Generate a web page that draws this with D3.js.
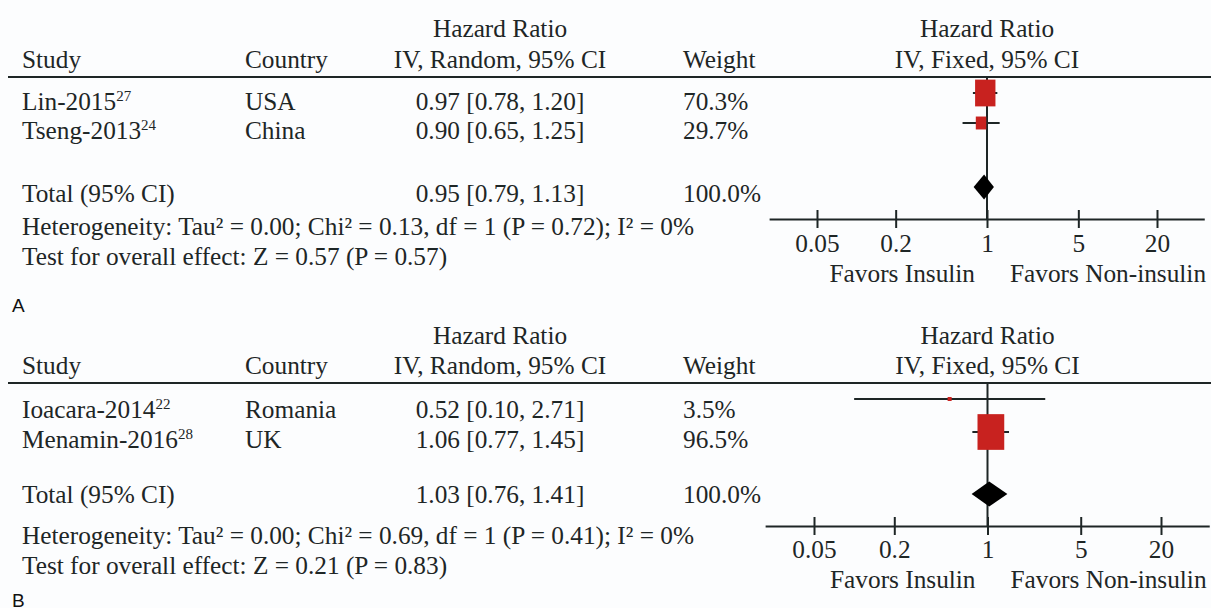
<!DOCTYPE html>
<html>
<head>
<meta charset="utf-8">
<script src="https://cdn.jsdelivr.net/npm/d3@7"></script>
<style>
  html, body { margin: 0; padding: 0; background: #fcfdfe; }
  svg { display: block; }
</style>
</head>
<body>
<script>
// ---- Panel A: insulin vs non-insulin, studies ----
const studiesA   = ["Lin-2015", "Tseng-2013"];
const refsA      = ["27", "24"];
const countriesA = ["USA", "China"];
const hrA        = [0.97, 0.90];
const lowerA     = [0.78, 0.65];
const upperA     = [1.20, 1.25];
const weightA    = [70.3, 29.7];
const totalA     = [0.95, 0.79, 1.13];   // estimate, lower, upper
const hetA       = "Heterogeneity: Tau² = 0.00; Chi² = 0.13, df = 1 (P = 0.72); I² = 0%";
const testA      = "Test for overall effect: Z = 0.57 (P = 0.57)";

// ---- Panel B ----
const studiesB   = ["Ioacara-2014", "Menamin-2016"];
const refsB      = ["22", "28"];
const countriesB = ["Romania", "UK"];
const hrB        = [0.52, 1.06];
const lowerB     = [0.10, 0.77];
const upperB     = [2.71, 1.45];
const weightB    = [3.5, 96.5];
const totalB     = [1.03, 0.76, 1.41];
const hetB       = "Heterogeneity: Tau² = 0.00; Chi² = 0.69, df = 1 (P = 0.41); I² = 0%";
const testB      = "Test for overall effect: Z = 0.21 (P = 0.83)";

// ---- shared axis / header text ----
const tickValues = [0.05, 0.2, 1, 5, 20];
const tickLabels = ["0.05", "0.2", "1", "5", "20"];
const colHeaders = ["Study", "Country", "IV, Random, 95% CI", "Weight"];
const effectTitle = "Hazard Ratio";
const plotSubtitle = "IV, Fixed, 95% CI";
const favorsLeft = "Favors Insulin";
const favorsRight = "Favors Non-insulin";
const panelLabels = ["A", "B"];

const W = 1211, H = 608;
const INK = "#1e2626";
const RED = "#c8221f";
const SERIF = "'Liberation Serif', 'Times New Roman', serif";
const FS = 25.3;

const svg = d3.select("body").append("svg")
  .attr("width", W).attr("height", H)
  .style("background", "#fcfdfe");

// vertical layout of each panel (pixel positions)
const layouts = [
  { hdr1: 37, hdr2: 68, rule: 77, rowBase: [110, 139], rowY: [93, 123], totBase: 202, totY: 187,
    het: 235, test: 265, axisY: 219, tickBase: 252, favBase: 282, label: 312,
    range: [817, 1157] },
  { hdr1: 344, hdr2: 374, rule: 383, rowBase: [418, 448], rowY: [399, 432], totBase: 503, totY: 494,
    het: 544, test: 574, axisY: 526, tickBase: 558, favBase: 588, label: 607,
    range: [814, 1161] }
];

const panels = [
  { studies: studiesA, refs: refsA, countries: countriesA, hr: hrA, lo: lowerA, hi: upperA,
    w: weightA, total: totalA, het: hetA, test: testA },
  { studies: studiesB, refs: refsB, countries: countriesB, hr: hrB, lo: lowerB, hi: upperB,
    w: weightB, total: totalB, het: hetB, test: testB }
];

// box size grows with study weight (with a small minimum size)
const boxW = d3.scaleLinear().domain([0, 100]).range([3.2, 27.6]);
const boxH = d3.scaleLinear().domain([0, 100]).range([2.8, 36.9]);

const colX = { study: 22, country: 245, effect: 500, weight: 683 };

panels.forEach((p, i) => {
  const L = layouts[i];
  const g = svg.append("g");
  const x = d3.scaleLog().domain([0.05, 20]).range(L.range);

  const text = (tx, ty, str, anchor) => g.append("text")
    .attr("x", tx).attr("y", ty)
    .attr("text-anchor", anchor || "start")
    .attr("font-family", SERIF).attr("font-size", FS)
    .attr("fill", INK).text(str);

  // headers
  text(colX.effect, L.hdr1, effectTitle, "middle");
  text(x(1), L.hdr1, effectTitle, "middle");
  text(colX.study, L.hdr2, colHeaders[0]);
  text(colX.country, L.hdr2, colHeaders[1]);
  text(colX.effect, L.hdr2, colHeaders[2], "middle");
  text(colX.weight, L.hdr2, colHeaders[3]);
  text(x(1), L.hdr2, plotSubtitle, "middle");

  g.append("line")
    .attr("x1", 8).attr("x2", W).attr("y1", L.rule).attr("y2", L.rule)
    .attr("stroke", INK).attr("stroke-width", 2);

  // study rows
  p.studies.forEach((s, j) => {
    const t = text(colX.study, L.rowBase[j], s);
    t.append("tspan").attr("font-size", 15).attr("dy", -9).text(p.refs[j]);
    text(colX.country, L.rowBase[j], p.countries[j]);
    text(colX.effect, L.rowBase[j],
      `${p.hr[j].toFixed(2)} [${p.lo[j].toFixed(2)}, ${p.hi[j].toFixed(2)}]`, "middle");
    text(colX.weight, L.rowBase[j], `${p.w[j].toFixed(1)}%`);
  });

  // totals and summary lines
  text(colX.study, L.totBase, "Total (95% CI)");
  text(colX.effect, L.totBase,
    `${p.total[0].toFixed(2)} [${p.total[1].toFixed(2)}, ${p.total[2].toFixed(2)}]`, "middle");
  text(colX.weight, L.totBase, `${d3.sum(p.w).toFixed(1)}%`);
  text(colX.study, L.het, p.het);
  text(colX.study, L.test, p.test);

  // line of no effect
  g.append("line")
    .attr("x1", x(1)).attr("x2", x(1)).attr("y1", L.rule).attr("y2", L.axisY)
    .attr("stroke", INK).attr("stroke-width", 2);

  // confidence intervals
  g.selectAll(".ci").data(p.hr).enter().append("line")
    .attr("x1", (d, j) => x(p.lo[j])).attr("x2", (d, j) => x(p.hi[j]))
    .attr("y1", (d, j) => L.rowY[j]).attr("y2", (d, j) => L.rowY[j])
    .attr("stroke", INK).attr("stroke-width", 2);

  // weighted boxes
  g.selectAll(".box").data(p.hr).enter().append("rect")
    .attr("x", (d, j) => x(d) - boxW(p.w[j]) / 2)
    .attr("y", (d, j) => L.rowY[j] - boxH(p.w[j]) / 2)
    .attr("width", (d, j) => boxW(p.w[j]))
    .attr("height", (d, j) => boxH(p.w[j]))
    .attr("fill", RED);

  // pooled diamond
  const [est, lo, hi] = p.total;
  const dh = 12.5;
  g.append("path")
    .attr("d", `M${x(lo)},${L.totY} L${x(est)},${L.totY - dh} L${x(hi)},${L.totY} L${x(est)},${L.totY + dh} Z`)
    .attr("fill", "#000");

  // log axis
  const axisScale = x.copy().domain([0.0215, 46]).range([x(0.0215), x(46)]);
  const ax = g.append("g")
    .attr("transform", `translate(0,${L.axisY})`)
    .call(d3.axisBottom(axisScale).tickValues(tickValues)
      .tickFormat((d, k) => tickLabels[k]).tickSizeOuter(0).tickSizeInner(9));
  ax.select(".domain").attr("stroke", INK).attr("stroke-width", 2);
  ax.selectAll(".tick line").attr("y1", -9).attr("y2", 9)
    .attr("stroke", INK).attr("stroke-width", 2);
  ax.selectAll(".tick text")
    .attr("y", L.tickBase - L.axisY).attr("dy", 0)
    .attr("font-family", SERIF).attr("font-size", FS).attr("fill", INK);

  text(x(1) - 12, L.favBase, favorsLeft, "end");
  text(x(1) + 23, L.favBase, favorsRight, "start");

  // panel letter
  g.append("text")
    .attr("x", 12).attr("y", L.label)
    .attr("font-family", "'Liberation Sans', Arial, sans-serif")
    .attr("font-size", 19).attr("fill", "#111")
    .text(panelLabels[i]);
});
</script>
</body>
</html>
